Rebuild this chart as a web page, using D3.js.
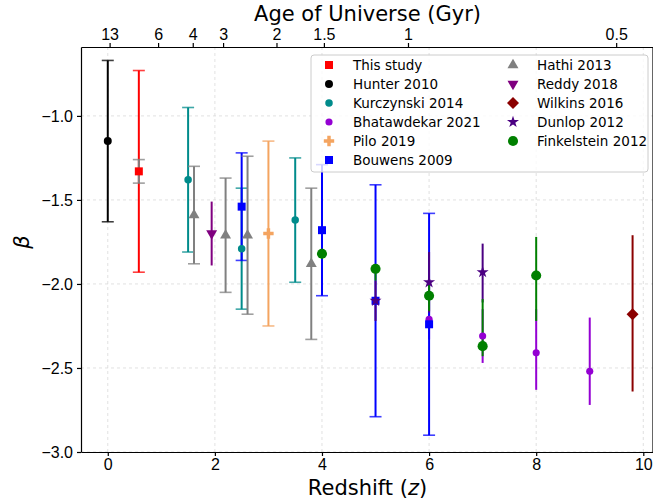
<!DOCTYPE html>
<html>
<head>
<meta charset="utf-8">
<script src="https://cdn.jsdelivr.net/npm/d3@7"></script>
<style>
  body { margin: 0; background: #fff; }
  svg { font-family: "DejaVu Sans", sans-serif; }
  .grid line { stroke: #d9d9d9; stroke-dasharray: 3,3; stroke-width: 0.8; }
  .axis text { font-size: 16px; fill: #000; }
  .axis path, .axis line { stroke: #000; stroke-width: 1.2; }
</style>
</head>
<body>
<svg id="chart" width="653" height="502"></svg>
<script>
// ---- data ----
var thisStudyZ = [0.58], thisStudyBeta = [-1.33], thisStudyErrUp = [0.60], thisStudyErrDn = [0.60];
var thisStudyStatErr = [0.07];
var hunterZ = [0], hunterBeta = [-1.15], hunterErrUp = [0.48], hunterErrDn = [0.48];
var kurczynskiZ = [1.5, 2.5, 3.5], kurczynskiBeta = [-1.38, -1.79, -1.62],
    kurczynskiErrUp = [0.43, 0.36, 0.37], kurczynskiErrDn = [0.43, 0.36, 0.37];
var bhatawdekarZ = [6, 7, 8, 9], bhatawdekarBeta = [-2.21, -2.31, -2.41, -2.52],
    bhatawdekarErrUp = [0.12, 0.16, 0.26, 0.32], bhatawdekarErrDn = [0.12, 0.16, 0.22, 0.20];
var piloZ = [3.0], piloBeta = [-1.70], piloErrUp = [0.55], piloErrDn = [0.55];
var bouwensZ = [2.5, 4, 5, 6], bouwensBeta = [-1.54, -1.68, -2.10, -2.24],
    bouwensErrUp = [0.32, 0.39, 0.69, 0.66], bouwensErrDn = [0.32, 0.39, 0.69, 0.66];
var hathiZ = [1.61, 2.2, 2.61, 3.8], hathiBeta = [-1.59, -1.71, -1.71, -1.88],
    hathiErrUp = [0.29, 0.34, 0.47, 0.45], hathiErrDn = [0.29, 0.34, 0.47, 0.45];
var reddyZ = [1.94], reddyBeta = [-1.70], reddyErrUp = [0.19], reddyErrDn = [0.19];
var wilkinsZ = [9.8], wilkinsBeta = [-2.18], wilkinsErrUp = [0.47], wilkinsErrDn = [0.46];
var dunlopZ = [5, 6, 7], dunlopBeta = [-2.10, -1.99, -1.93],
    dunlopErrUp = [0.12, 0.18, 0.17], dunlopErrDn = [0.12, 0.18, 0.18];
var finkelsteinZ = [4, 5, 6, 7, 8], finkelsteinBeta = [-1.82, -1.91, -2.07, -2.37, -1.95],
    finkelsteinErrUp = [0.03, 0.02, 0.07, 0.28, 0.23], finkelsteinErrDn = [0.03, 0.07, 0.09, 0.06, 0.27];

var zTicks = [0, 2, 4, 6, 8, 10];
var betaTicks = [-3.0, -2.5, -2.0, -1.5, -1.0];
var ageTicks = [13, 6, 4, 3, 2, 1.5, 1, 0.5];

// ---- styles ----
function mk(name, z, b, up, dn, color, shape, size, caps, legend) {
  return {name: name, z: z, b: b, up: up, dn: dn, color: color, shape: shape, size: size, caps: caps, legend: legend};
}
var series = [
  mk('This study', thisStudyZ, thisStudyBeta, thisStudyErrUp, thisStudyErrDn, 'red', 'square', 64, true, true),
  mk('stat', thisStudyZ, thisStudyBeta, thisStudyStatErr, thisStudyStatErr, 'gray', null, 0, true, false),
  mk('Hunter 2010', hunterZ, hunterBeta, hunterErrUp, hunterErrDn, 'black', 'circle', 50, true, true),
  mk('Kurczynski 2014', kurczynskiZ, kurczynskiBeta, kurczynskiErrUp, kurczynskiErrDn, '#008b8b', 'circle', 44, true, true),
  mk('Bhatawdekar 2021', bhatawdekarZ, bhatawdekarBeta, bhatawdekarErrUp, bhatawdekarErrDn, '#9400d3', 'circle', 40, false, true),
  mk('Pilo 2019', piloZ, piloBeta, piloErrUp, piloErrDn, '#f4a460', 'plus', 60, true, true),
  mk('Bouwens 2009', bouwensZ, bouwensBeta, bouwensErrUp, bouwensErrDn, 'blue', 'square', 64, true, true),
  mk('Hathi 2013', hathiZ, hathiBeta, hathiErrUp, hathiErrDn, 'gray', 'triangle', 52, true, true),
  mk('Reddy 2018', reddyZ, reddyBeta, reddyErrUp, reddyErrDn, 'purple', 'down', 52, false, true),
  mk('Wilkins 2016', wilkinsZ, wilkinsBeta, wilkinsErrUp, wilkinsErrDn, '#8b0000', 'diamond', 72, false, true),
  mk('Dunlop 2012', dunlopZ, dunlopBeta, dunlopErrUp, dunlopErrDn, 'indigo', 'star', 45, false, true),
  mk('Finkelstein 2012', finkelsteinZ, finkelsteinBeta, finkelsteinErrUp, finkelsteinErrDn, 'green', 'circle', 80, false, true)
];

var svg = d3.select('#chart');
var pL = 81, pR = 654, pT = 47, pB = 452;

var x = d3.scaleLinear().domain([-0.5, 10.2]).range([pL, pR]);
var y = d3.scaleLinear().domain([-3.0, -0.59]).range([pB, pT]);

// age (Gyr) -> redshift, flat LCDM H0=70 Om=0.3
var OL = 0.7, Om = 0.3, tH = 977.8 / 70;
function ageToZ(t) {
  return Math.pow(Math.sqrt(OL / Om) / Math.sinh(t * 1.5 * Math.sqrt(OL) / tH), 2 / 3) - 1;
}

// grid
var grid = svg.append('g').attr('class', 'grid');
grid.selectAll('.gx').data(zTicks).enter().append('line')
  .attr('x1', function (d) { return x(d); }).attr('x2', function (d) { return x(d); })
  .attr('y1', pT).attr('y2', pB);
grid.selectAll('.gy').data(betaTicks).enter().append('line')
  .attr('x1', pL).attr('x2', pR)
  .attr('y1', function (d) { return y(d); }).attr('y2', function (d) { return y(d); });

var fmtBeta = function (d) { return d3.format('.1f')(d).replace('-', '\u2212'); };

svg.append('g').attr('class', 'axis')
  .attr('transform', 'translate(' + pL + ',0)')
  .call(d3.axisLeft(y).tickValues(betaTicks).tickFormat(fmtBeta).tickSize(4).tickSizeOuter(0).tickPadding(4));
svg.append('g').attr('class', 'axis')
  .attr('transform', 'translate(0,' + pB + ')')
  .call(d3.axisBottom(x).tickValues(zTicks).tickFormat(d3.format('d')).tickSize(4).tickSizeOuter(0).tickPadding(3));
svg.append('g').attr('class', 'axis')
  .attr('transform', 'translate(0,' + pT + ')')
  .call(d3.axisTop(x).tickValues(ageTicks.map(ageToZ))
    .tickFormat(function (d, i) { return ageTicks[i]; }).tickSize(4).tickSizeOuter(0).tickPadding(3));
svg.append('line').attr('x1', pR - 1).attr('x2', pR - 1).attr('y1', pT).attr('y2', pB)
  .attr('stroke', '#000').attr('stroke-width', 1.2);

// axis titles
svg.append('text').attr('x', (pL + pR) / 2).attr('y', 495).attr('text-anchor', 'middle')
  .attr('font-size', 21).html('Redshift (<tspan font-style="italic">z</tspan>)');
svg.append('text').attr('x', (pL + pR) / 2).attr('y', 21).attr('text-anchor', 'middle')
  .attr('font-size', 21).text('Age of Universe (Gyr)');
svg.append('text').attr('transform', 'translate(29,' + 242 + ') rotate(-90)').attr('text-anchor', 'middle')
  .attr('font-size', 21).attr('font-style', 'italic').text('\u03b2');

function symbolPath(shape, size) {
  var t = {circle: d3.symbolCircle, square: d3.symbolSquare, triangle: d3.symbolTriangle,
    down: d3.symbolTriangle, diamond: d3.symbolSquare, star: d3.symbolStar, plus: d3.symbolCross}[shape];
  return d3.symbol().type(t).size(size)();
}
function symbolRot(shape) {
  return shape === 'down' ? 180 : shape === 'diamond' ? 45 : 0;
}

var plot = svg.append('g');

// error bars
series.forEach(function (s) {
  var g = plot.append('g');
  s.z.forEach(function (zv, i) {
    var y0 = y(s.b[i] + s.up[i]), y1 = y(s.b[i] - s.dn[i]), xv = x(zv);
    g.append('line').attr('x1', xv).attr('x2', xv).attr('y1', y0).attr('y2', y1)
      .attr('stroke', s.color).attr('stroke-width', 2);
    if (s.caps) {
      [y0, y1].forEach(function (yc) {
        g.append('line').attr('x1', xv - 6).attr('x2', xv + 6).attr('y1', yc).attr('y2', yc)
          .attr('stroke', s.color).attr('stroke-width', 1.6).attr('opacity', 0.75);
      });
    }
  });
});

// markers
series.forEach(function (s) {
  if (!s.shape) return;
  plot.append('g').selectAll('path').data(s.z).enter().append('path')
    .attr('d', symbolPath(s.shape, s.size))
    .attr('transform', function (zv, i) {
      return 'translate(' + x(zv) + ',' + y(s.b[i]) + ') rotate(' + symbolRot(s.shape) + ')';
    })
    .attr('fill', s.color);
});

// legend
var lg = svg.append('g');
lg.append('rect').attr('x', 311).attr('y', 55).attr('width', 337).attr('height', 117)
  .attr('rx', 3).attr('fill', 'white').attr('fill-opacity', 0.8).attr('stroke', '#cccccc');
var items = series.filter(function (s) { return s.legend; });
items.forEach(function (s, i) {
  var col = i < 6 ? 0 : 1, row = i < 6 ? i : i - 6;
  var mx = col === 0 ? 329 : 513, ty = 65 + row * 19;
  lg.append('path').attr('d', symbolPath(s.shape, s.size))
    .attr('transform', 'translate(' + mx + ',' + ty + ') rotate(' + symbolRot(s.shape) + ')')
    .attr('fill', s.color);
  lg.append('text').attr('x', mx + 24).attr('y', ty + 5).attr('font-size', 13.5).text(s.name);
});
</script>
</body>
</html>
